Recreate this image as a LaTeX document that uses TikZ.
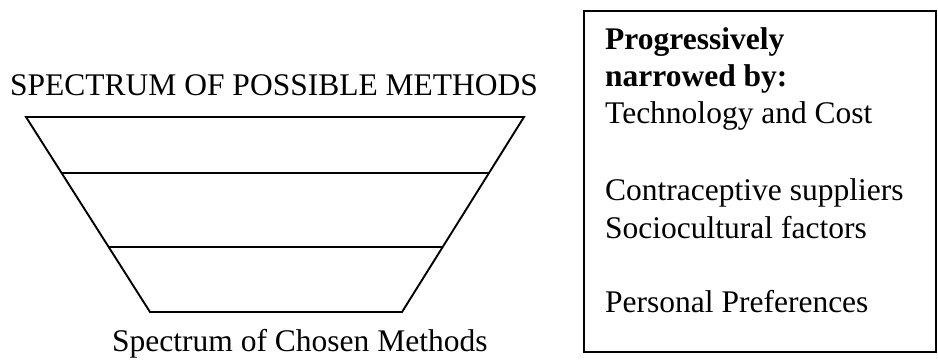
\documentclass[tikz,border=0pt]{standalone}
\usepackage{fontspec}
\setmainfont{Liberation Serif}
\usetikzlibrary{calc}
\begin{document}
\begin{tikzpicture}[x=1pt,y=-1pt,
  label text/.style={anchor=base west,inner sep=0pt,font=\fontsize{31.5}{37.5}\selectfont},
  funnel/.style={line width=1.9pt,line join=miter},
  panel/.style={draw,line width=1.5pt,inner sep=0pt}]
  \useasboundingbox (0,0) rectangle (938,360);

  % funnel outline
  \coordinate (tl) at (26,117);
  \coordinate (tr) at (524,117);
  \coordinate (br) at (402,312);
  \coordinate (bl) at (150,312);
  \draw[funnel] (tl) -- (tr) -- (br) -- (bl) -- cycle;

  % dividing bands
  \coordinate (a1) at ($(tl)!0.287!(bl)$);
  \coordinate (a2) at ($(tr)!0.287!(br)$);
  \coordinate (b1) at ($(tl)!0.667!(bl)$);
  \coordinate (b2) at ($(tr)!0.667!(br)$);
  \draw[funnel] (a1) -- (a2);
  \draw[funnel] (b1) -- (b2);

  % captions
  \node[label text] (top) at (10,95) {SPECTRUM OF POSSIBLE METHODS};
  \node[label text] (bottom) at (112,351) {Spectrum of Chosen Methods};

  % factor panel
  \draw[line width=1.5pt] (584,11) rectangle (936,352);
  \node[label text,font=\fontsize{31.5}{37.5}\selectfont\bfseries] (l1) at (605,49) {Progressively};
  \node[label text,font=\fontsize{31.5}{37.5}\selectfont\bfseries] (l2) at (605,86) {narrowed by:};
  \node[label text] (l3) at (605,123) {Technology and Cost};
  \node[label text] (l4) at (605,200) {Contraceptive suppliers};
  \node[label text] (l5) at (605,238) {Sociocultural factors};
  \node[label text] (l6) at (605,312) {Personal Preferences};
\end{tikzpicture}
\end{document}
